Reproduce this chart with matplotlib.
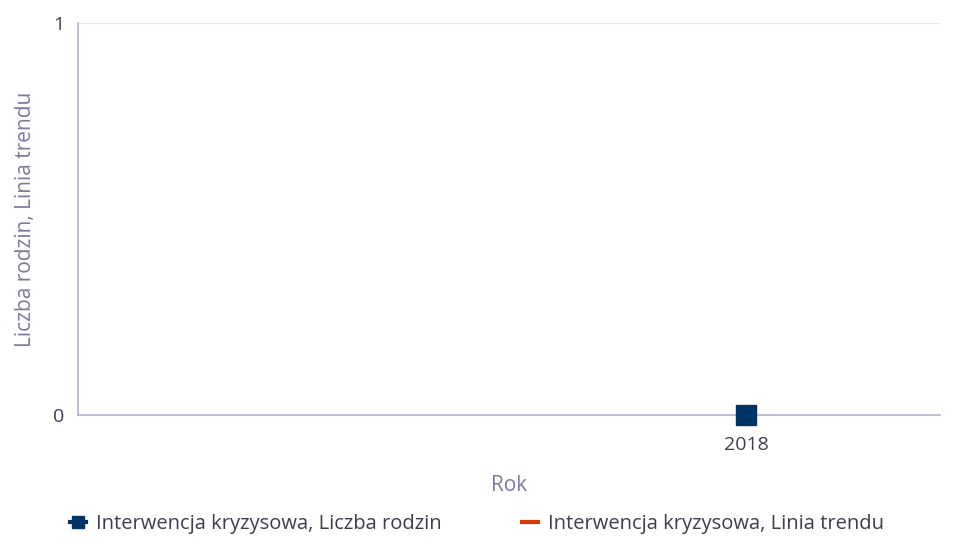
import matplotlib
matplotlib.use("Agg")
import matplotlib.pyplot as plt
from matplotlib.lines import Line2D

plt.rcParams['font.family'] = ['Open Sans', 'DejaVu Sans']

# data
years = [2018]
families = [0]
trend = [0]

navy = '#003366'
orange = '#d83b01'
axis_col = '#b3b3cf'
text_col = '#3d3d4d'
label_col = '#7a7aa0'

fig = plt.figure(figsize=(9.54, 5.46), dpi=100)
ax = fig.add_axes([0.0818, 0.240, 0.9032, 0.718])

ax.plot(years, trend, color=orange, linewidth=3)
ax.plot(years, families, linestyle='none', marker='s', markersize=14.5,
        color=navy, clip_on=False, zorder=5)

ax.set_xlim(2014.55, 2019.0)
ax.set_ylim(0, 1)
ax.set_xticks(years)
ax.set_yticks([0, 1])
ax.grid(axis='y', color='#e6e6e6', linewidth=1)
ax.set_axisbelow(True)

for s in ['top', 'right']:
    ax.spines[s].set_visible(False)
ax.spines['left'].set_color(axis_col)
ax.spines['bottom'].set_color(axis_col)
ax.spines['left'].set_linewidth(1.2)
ax.spines['bottom'].set_linewidth(1.2)

ax.tick_params(axis='both', length=0, labelsize=14, colors=text_col)
ax.tick_params(axis='y', pad=10)
ax.tick_params(axis='x', pad=15)

ax.set_xlabel('Rok', fontsize=15, color=label_col, labelpad=15)
ax.set_ylabel('Liczba rodzin, Linia trendu', fontsize=15, color=label_col, labelpad=12)

handles = [
    Line2D([0], [0], color=navy, marker='s', markersize=8, linewidth=3),
    Line2D([0], [0], color=orange, linewidth=3),
]
labels = ['Interwencja kryzysowa, Liczba rodzin', 'Interwencja kryzysowa, Linia trendu']
fig.legend(handles, labels, loc='lower center', bbox_to_anchor=(0.5, -0.012), ncol=2,
           frameon=False, fontsize=14.5, labelcolor=text_col, handlelength=0.8,
           handletextpad=0.5, columnspacing=4.0)

fig.savefig('out.png', dpi=100)
